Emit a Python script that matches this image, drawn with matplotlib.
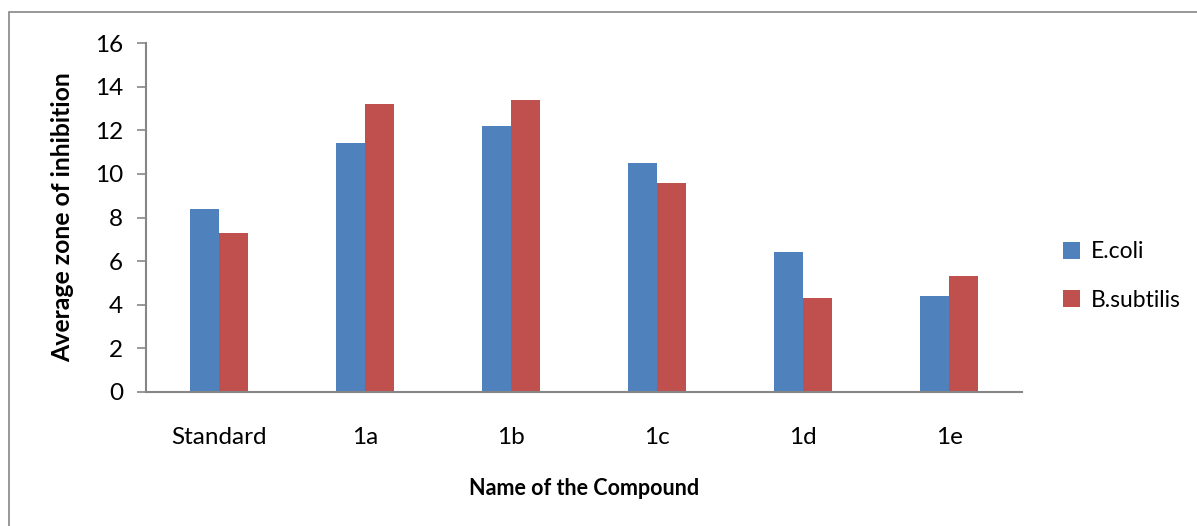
import matplotlib
matplotlib.use("Agg")
import matplotlib.pyplot as plt
from matplotlib.patches import Rectangle
import numpy as np

categories = ["Standard", "1a", "1b", "1c", "1d", "1e"]
ecoli = [8.4, 11.4, 12.2, 10.5, 6.4, 4.4]
bsubtilis = [7.3, 13.2, 13.4, 9.6, 4.3, 5.3]
series_names = ["E.coli", "B.subtilis"]
yticks = [0, 2, 4, 6, 8, 10, 12, 14, 16]

plt.rcParams['font.family'] = ['Lato', 'DejaVu Sans']

W, H = 1197, 526
fig = plt.figure(figsize=(W/100, H/100), dpi=100)
ax = fig.add_axes([146/W, 1-392/H, (1022-146)/W, (392-43)/H])

x = np.arange(len(categories))
w = 0.2
b1 = ax.bar(x - w/2, ecoli, w, color="#4F81BD", label=series_names[0])
b2 = ax.bar(x + w/2, bsubtilis, w, color="#C0504D", label=series_names[1])

ax.set_xlim(-0.5, len(categories) - 0.5)
ax.set_ylim(0, 16)
ax.set_yticks(yticks)
ax.set_xticks(x)
ax.set_xticklabels(categories)
for s in ["top", "right"]:
    ax.spines[s].set_visible(False)
for s in ["left", "bottom"]:
    ax.spines[s].set_color("#868686")
    ax.spines[s].set_linewidth(1.5)
ax.tick_params(axis="y", length=6.5, width=1.2, color="#868686", labelsize=17.5, pad=10)
ax.tick_params(axis="x", length=0, labelsize=17.5, pad=25)

ax.set_ylabel("Average zone of inhibition", fontsize=17.8, fontweight="bold", labelpad=15)
ax.set_xlabel("Name of the Compound", fontsize=15.5, fontweight="bold", labelpad=22)

leg = fig.legend(handles=[b1, b2], loc="upper left", bbox_to_anchor=(1054/W, 1-232/H),
                 frameon=False, fontsize=16.5, handlelength=0.75, handleheight=0.75,
                 labelspacing=1.2, handletextpad=0.45, borderaxespad=0)

fig.patches.append(Rectangle((9/W, -0.1), 1.2, 1.1-12/H, transform=fig.transFigure,
                             fill=False, edgecolor="#868686", linewidth=1.2))

fig.savefig("out.png", dpi=100)
